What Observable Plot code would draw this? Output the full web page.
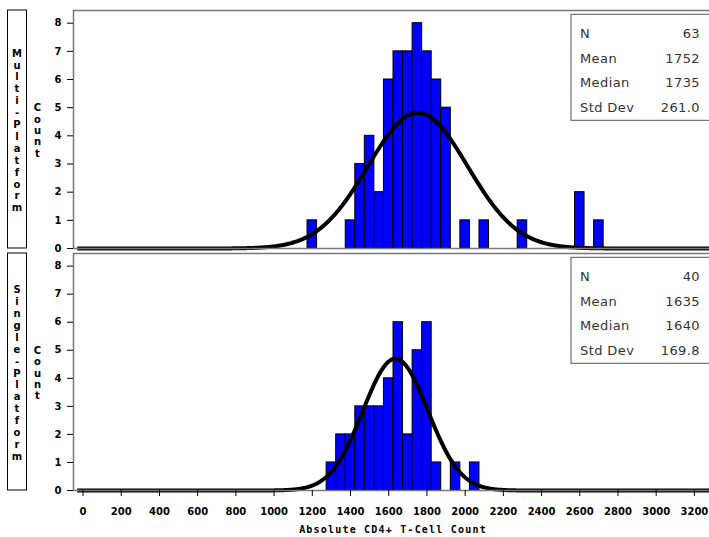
<!DOCTYPE html>
<html><head><meta charset="utf-8">
<script src="https://cdn.jsdelivr.net/npm/d3@7"></script>
<script src="https://cdn.jsdelivr.net/npm/@observablehq/plot@0.6"></script>
<style>
html,body{margin:0;padding:0;background:#fff;overflow:hidden;}
#wrap{position:relative;width:709px;height:537px;overflow:hidden;background:#fff;}
#wrap > .panel{position:absolute;left:0;}
#overlay{position:absolute;left:0;top:0;}
</style></head>
<body><div id="wrap"></div>
<script>
// ---- data ----
const groups = ["Multi-Platform", "Single-Platform"];
const binWidth = 50;
const multiMidpoints = [1200, 1400, 1450, 1500, 1550, 1600, 1650, 1700, 1750, 1800, 1850, 1900, 2000, 2100, 2300, 2600, 2700];
const multiCounts    = [1,    1,    3,    4,    2,    6,    7,    7,    8,    7,    6,    5,    1,    1,    1,    2,    1];
const singleMidpoints = [1300, 1350, 1400, 1450, 1500, 1550, 1600, 1650, 1700, 1750, 1800, 1850, 1950, 2050];
const singleCounts    = [1,    2,    2,    3,    3,    3,    4,    6,    2,    5,    6,    1,    1,    1];
const statLabels = ["N", "Mean", "Median", "Std Dev"];
const multiStats  = ["63", "1752", "1735", "261.0"];
const singleStats = ["40", "1635", "1640", "169.8"];
const xTickValues = [0, 200, 400, 600, 800, 1000, 1200, 1400, 1600, 1800, 2000, 2200, 2400, 2600, 2800, 3000, 3200];
const yTickValues = [0, 1, 2, 3, 4, 5, 6, 7, 8];
const xLabel = "Absolute CD4+ T-Cell Count";
const yLabel = "Count";

// ---- build tables ----
function bars(mids, counts) {
  return mids.map((m, i) => ({x1: m - binWidth / 2, x2: m + binWidth / 2, y: counts[i]}));
}
function normalCurve(stats) {
  const n = +stats[0], mean = +stats[1], sd = +stats[3];
  const pts = [];
  for (let x = -30; x <= 3300; x += 5) {
    pts.push({x, y: n * binWidth * Math.exp(-0.5 * ((x - mean) / sd) ** 2) / (sd * Math.sqrt(2 * Math.PI))});
  }
  return pts;
}

const wrap = document.getElementById("wrap");
const axisFont = "font-family:'DejaVu Sans',sans-serif;font-size:10px;font-weight:bold;max-width:none;background:transparent;";

function panel({mids, counts, stats, top, height, marginTop, marginBottom, showX}) {
  const marks = [
    Plot.rectY(bars(mids, counts), {x1: "x1", x2: "x2", y: "y", fill: "#0000ff", stroke: "#000", strokeWidth: 1}),
    Plot.line(normalCurve(stats), {x: "x", y: "y", stroke: "#000", strokeWidth: 4, strokeLinejoin: "round", strokeLinecap: "butt"}),
    Plot.frame({stroke: "#777", strokeWidth: 1.5}),
    Plot.axisY({ticks: yTickValues, tickSize: 6, tickPadding: 6, label: null, tickFormat: d => String(d)})
  ];
  if (showX) marks.push(Plot.axisX({ticks: xTickValues, tickSize: 6, tickPadding: 11, label: null, tickFormat: d => String(d)}));
  const p = Plot.plot({
    width: 713, height,
    marginLeft: 73, marginRight: 0, marginTop, marginBottom,
    x: {domain: [-50, 3300], axis: null},
    y: {domain: [0, 8.45], axis: null},
    style: axisFont,
    marks
  });
  p.classList.add("panel");
  p.style.top = top + "px";
  wrap.appendChild(p);
}

panel({mids: multiMidpoints, counts: multiCounts, stats: multiStats, top: 0, height: 254, marginTop: 10, marginBottom: 6, showX: false});
panel({mids: singleMidpoints, counts: singleCounts, stats: singleStats, top: 250, height: 287, marginTop: 3, marginBottom: 47, showX: true});

// ---- annotations ----
const svg = d3.select(wrap).append("svg").attr("id", "overlay").attr("width", 709).attr("height", 537);
const panels = [
  {name: groups[0], top: 10, bottom: 248, stats: multiStats, boxTop: 14.3},
  {name: groups[1], top: 253, bottom: 490, stats: singleStats, boxTop: 257.3}
];
const mono = "'DejaVu Sans Mono', monospace";
const sansB = "'DejaVu Sans', sans-serif";
panels.forEach(pn => {
  const cy = (pn.top + pn.bottom) / 2 + 1.5;
  svg.append("rect").attr("x", 7.5).attr("y", pn.top).attr("width", 19).attr("height", pn.bottom - pn.top)
    .attr("fill", "none").attr("stroke", "#000").attr("stroke-width", 1);
  const chars = pn.name.split("");
  chars.forEach((c, i) => {
    svg.append("text").attr("x", 17).attr("y", cy + (i - (chars.length - 1) / 2) * 11.9)
      .attr("text-anchor", "middle").attr("dominant-baseline", "central")
      .attr("font-family", sansB).attr("font-size", 10).attr("font-weight", "bold").attr("fill", "#000").text(c);
  });
  const yc = yLabel.split("");
  yc.forEach((c, i) => {
    svg.append("text").attr("x", 37.5).attr("y", cy + (i - (yc.length - 1) / 2) * 11.4)
      .attr("text-anchor", "middle").attr("dominant-baseline", "central")
      .attr("font-family", sansB).attr("font-size", 10).attr("font-weight", "bold").attr("fill", "#000").text(c);
  });
  svg.append("rect").attr("x", 571).attr("y", pn.boxTop).attr("width", 160).attr("height", 106)
    .attr("fill", "#fff").attr("stroke", "#555").attr("stroke-width", 1);
  const offs = [19.5, 44.2, 68.6, 93];
  statLabels.forEach((lab, i) => {
    svg.append("text").attr("x", 580).attr("y", pn.boxTop + offs[i]).attr("dominant-baseline", "central")
      .attr("font-family", "'DejaVu Sans', sans-serif").attr("font-size", 13).attr("fill", "#333")
      .attr("letter-spacing", 0.4).text(lab);
    svg.append("text").attr("x", 700).attr("y", pn.boxTop + offs[i]).attr("dominant-baseline", "central")
      .attr("text-anchor", "end")
      .attr("font-family", "'DejaVu Sans', sans-serif").attr("font-size", 13).attr("fill", "#333")
      .attr("letter-spacing", 0.4).text(pn.stats[i]);
  });
});
svg.append("text").attr("x", 393).attr("y", 529.5).attr("text-anchor", "middle").attr("dominant-baseline", "central")
  .attr("font-family", mono).attr("font-size", 10).attr("font-weight", "bold").attr("letter-spacing", 1.2).text(xLabel);
</script>
</body></html>
